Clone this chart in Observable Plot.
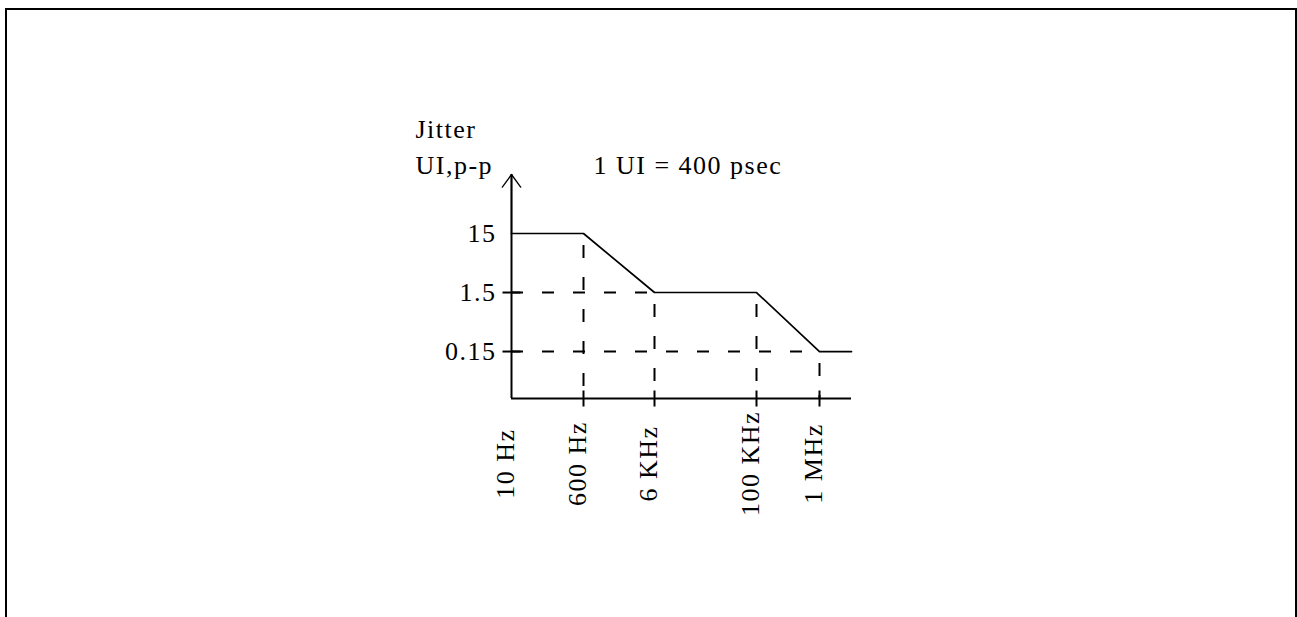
<!DOCTYPE html>
<html><head><meta charset="utf-8">
<script src="https://cdn.jsdelivr.net/npm/d3@7"></script>
<script src="https://cdn.jsdelivr.net/npm/@observablehq/plot@0.6"></script>
<style>
html,body{margin:0;padding:0;background:#fff;overflow:hidden}
#chart{position:absolute;left:0;top:0}
#frame{position:absolute;left:5px;top:8px;width:1288px;height:700px;border:2px solid #000;border-bottom:none;z-index:2;pointer-events:none}
#chart text{letter-spacing:1.5px}
</style></head><body>
<div id="chart"></div><div id="frame"></div>
<script>
// Jitter tolerance mask (schematic frequency axis)
const freqs = [10, 600, 6000, 1e5, 1e6, 3e6];        // Hz, breakpoints of the mask
const jitter = [15, 15, 1.5, 1.5, 0.15, 0.15];       // UI p-p
const freqTicks = [10, 600, 6000, 1e5, 1e6];
const freqLabels = ["10 Hz", "600 Hz", "6 KHz", "100 KHz", "1 MHz"];
const jitterTicks = [15, 1.5, 0.15];
const jitterLabels = ["15", "1.5", "0.15"];
const jitterTickMarks = [1.5, 0.15];
const yFloor = 0.024, yTop = 150;
const yTitle = "Jitter\nUI,p-p";
const note = "1 UI = 400 psec";

const curve = freqs.map((f, i) => ({f, j: jitter[i]}));
const corners = curve.slice(1, 5);
const hGuides = jitterTickMarks.map(j => ({j, f: freqs[jitter.indexOf(j)]}));

const hTick = {draw(ctx) { ctx.moveTo(-9, 0); ctx.lineTo(9, 0); }};
const vTick = {draw(ctx) { ctx.moveTo(0, -8); ctx.lineTo(0, 8); }};
const font = "'Liberation Serif', 'Times New Roman', serif";
const fs = 26;

const chart = Plot.plot({
  width: 1297, height: 617, margin: 0,
  style: {fontFamily: font, fontSize: fs + "px", background: "transparent"},
  x: {type: "log", domain: freqs, range: [511, 583, 654, 756, 819, 851], axis: null},
  y: {type: "log", domain: [yFloor, yTop], range: [398, 174], axis: null},
  marks: [
    Plot.ruleY(hGuides, {x1: 10, x2: "f", y: "j", stroke: "black", strokeWidth: 2, strokeDasharray: "12,19"}),
    Plot.ruleX(corners, {x: "f", y1: "j", y2: yFloor, stroke: "black", strokeWidth: 2, strokeDasharray: "13,19", strokeDashoffset: -12}),
    Plot.line(curve, {x: "f", y: "j", stroke: "black", strokeWidth: 1.7}),
    Plot.ruleX([10], {x: d => d, y1: yFloor, y2: yTop, stroke: "black", strokeWidth: 2}),
    Plot.ruleY([yFloor], {y: d => d, x1: 10, x2: freqs[freqs.length - 1], stroke: "black", strokeWidth: 2}),
    Plot.arrow([0], {x1: 10, y1: 15, x2: 10, y2: yTop, headLength: 18, headAngle: 72, stroke: "black", strokeWidth: 1.3}),
    Plot.dot(jitterTickMarks, {x: 10, y: d => d, symbol: hTick, fill: "none", stroke: "black", strokeWidth: 2}),
    Plot.dot(freqTicks.slice(1), {x: d => d, y: yFloor, symbol: vTick, fill: "none", stroke: "black", strokeWidth: 2}),
    Plot.text(jitterTicks, {x: 10, y: d => d, text: (d, i) => jitterLabels[i], textAnchor: "end", dx: -15, fontSize: fs, fill: "black"}),
    Plot.text(freqTicks, {x: d => d, y: yFloor, text: (d, i) => freqLabels[i], rotate: -90, dx: -6, dy: 65, fontSize: fs, fill: "black"}),
    Plot.text([yTitle], {x: 10, y: yTop, text: d => d, textAnchor: "start", lineAnchor: "bottom", lineHeight: 1.35, dx: -96, dy: -1, fontSize: fs, fill: "black"}),
    Plot.text([note], {x: 10, y: yTop, text: d => d, textAnchor: "start", lineAnchor: "bottom", dx: 82, dy: -1, fontSize: fs, fill: "black"})
  ]
});
document.getElementById("chart").appendChild(chart);
</script>
</body></html>
